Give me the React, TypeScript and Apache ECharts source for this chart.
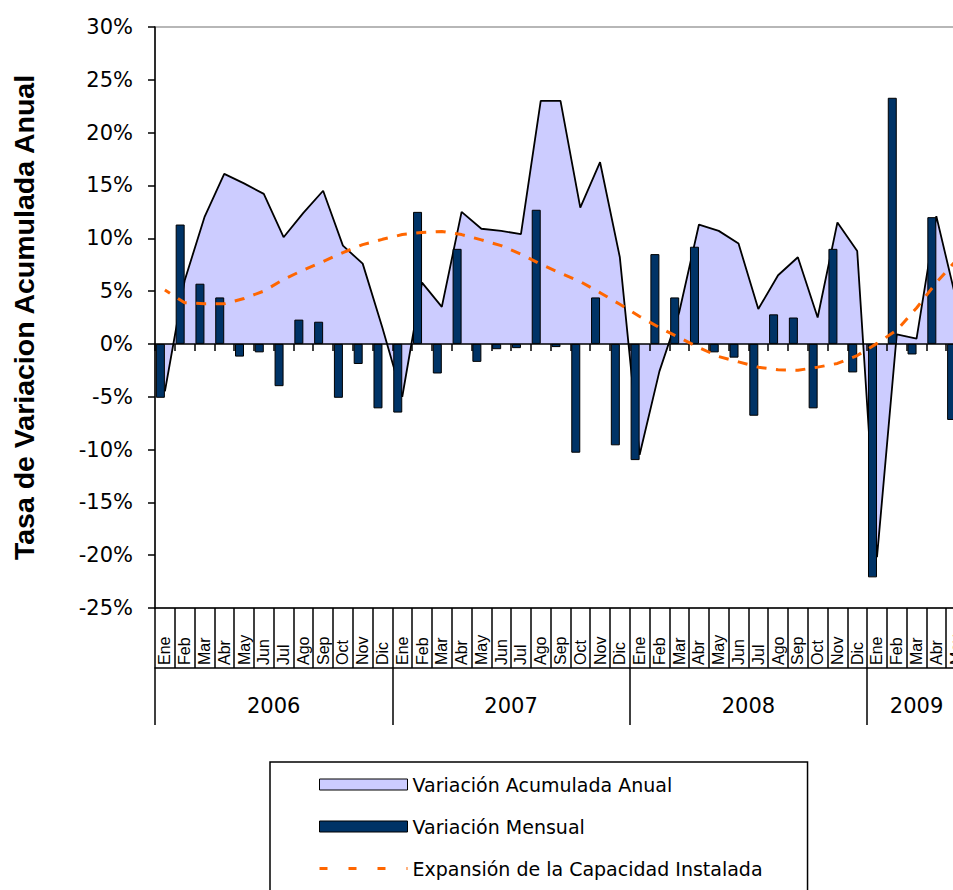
import React, { useEffect, useRef } from "react";
import * as echarts from "echarts";

const years = ["2006", "2007", "2008", "2009"];
const monthsPerYear = [12, 12, 12, 5];
const monthNames = ["Ene", "Feb", "Mar", "Abr", "May", "Jun", "Jul", "Ago", "Sep", "Oct", "Nov", "Dic"];

const categories: string[] = [];
years.forEach((y, i) => {
  monthNames.slice(0, monthsPerYear[i]).forEach((m) => categories.push(`${y}-${m}`));
});

const yearStarts: number[] = [];
const yearCenters: number[] = [];
{
  let acc = 0;
  monthsPerYear.forEach((n) => {
    yearStarts.push(acc);
    yearCenters.push(acc + n / 2);
    acc += n;
  });
}

// Variación Mensual (%)
const mensual = [
  -5.1, 11.3, 5.7, 4.4, -1.2, -0.8, -4.0, 2.3, 2.1, -5.1, -1.9, -6.1,
  -6.5, 12.5, -2.8, 9.0, -1.7, -0.5, -0.4, 12.7, -0.3, -10.3, 4.4, -9.6,
  -11.0, 8.5, 4.4, 9.2, -0.8, -1.3, -6.8, 2.8, 2.5, -6.1, 9.0, -2.7,
  -22.1, 23.3, -1.0, 12.0, -7.2,
];

// Variación Acumulada Anual (%)
const acumulada = [
  -4.5, 6.0, 12.0, 16.1, 15.2, 14.2, 10.1, 12.4, 14.5, 9.3, 7.6, 1.5,
  -5.0, 5.8, 3.5, 12.5, 10.9, 10.7, 10.4, 23.0, 23.0, 12.9, 17.2, 8.2,
  -10.5, -2.6, 3.0, 11.3, 10.7, 9.5, 3.3, 6.5, 8.2, 2.5, 11.5, 8.8,
  -20.2, 0.9, 0.5, 12.1, 4.2,
];

// Expansión de la Capacidad Instalada (%)
const capacidad = [
  5.1, 3.9, 3.8, 3.8, 4.3, 5.0, 6.1, 7.0, 7.8, 8.65, 9.4, 9.9,
  10.35, 10.55, 10.65, 10.35, 9.85, 9.3, 8.5, 7.55, 6.7, 5.9, 4.85, 3.75,
  2.6, 1.55, 0.6, -0.35, -1.2, -1.7, -2.2, -2.45, -2.5, -2.2, -1.85, -1.1,
  0.05, 1.3, 3.4, 5.8, 7.9,
];

const yMin = -25;
const yMax = 30;
const yStep = 5;

const NAME_AREA = "Variación Acumulada Anual";
const NAME_BAR = "Variación Mensual";
const NAME_LINE = "Expansión de la Capacidad Instalada";

export default function App() {
  const ref = useRef<HTMLDivElement>(null);

  useEffect(() => {
    if (!ref.current) return;
    const chart = echarts.init(ref.current, undefined, { renderer: "svg" });
    const black = { color: "#000", width: 1.5 };
    const option: any = {
      animation: false,
      backgroundColor: "#fff",
      textStyle: { fontFamily: "DejaVu Sans" },
      grid: {
        left: 155,
        top: 27,
        width: 811,
        height: 581,
        show: true,
        borderColor: "#A0A0A0",
        borderWidth: 1.5,
        backgroundColor: "transparent",
        containLabel: false,
        outerBoundsMode: "none",
      },
      legend: {
        orient: "vertical",
        left: 270,
        top: 762,
        itemWidth: 88,
        itemHeight: 11,
        itemGap: 23,
        padding: [13, 45, 40, 48],
        borderColor: "#000",
        borderWidth: 1.5,
        selectedMode: false,
        textStyle: { fontSize: 19, color: "#000", fontFamily: "DejaVu Sans" },
        data: [
          { name: NAME_AREA, icon: "rect", itemStyle: { color: "#CCCCFF", borderColor: "#000", borderWidth: 1 } },
          { name: NAME_BAR, icon: "rect", itemStyle: { color: "#003366", borderColor: "#000", borderWidth: 1 } },
          {
            name: NAME_LINE,
            itemStyle: { color: "transparent", borderColor: "transparent", borderWidth: 0, opacity: 0 },
            lineStyle: { color: "#FF6600", width: 3, type: [8, 21], dashOffset: 0, opacity: 1 },
          },
        ],
      },
      xAxis: [
        {
          type: "category",
          data: categories,
          position: "bottom",
          axisLine: { show: true, onZero: false, lineStyle: black },
          axisTick: { show: true, interval: 0, length: 60, lineStyle: black },
          axisLabel: { show: false },
          splitLine: { show: false },
        },
        {
          type: "category",
          data: categories,
          position: "bottom",
          z: 1.5,
          axisLine: { show: true, onZero: true, lineStyle: black },
          axisTick: { show: true, interval: 0, length: 7, lineStyle: black },
          axisLabel: { show: false },
          splitLine: { show: false },
        },
        {
          type: "category",
          data: categories,
          position: "bottom",
          offset: 60,
          axisLine: { show: true, onZero: false, lineStyle: black },
          axisTick: {
            show: true,
            interval: (i: number) => yearStarts.includes(i),
            length: 57,
            lineStyle: black,
          },
          axisLabel: {
            show: true,
            interval: 0,
            inside: true,
            rotate: 90,
            margin: 3,
            fontSize: 16,
            fontFamily: "Liberation Sans",
            color: "#000",
            formatter: (v: string) => v.split("-")[1],
          },
          splitLine: { show: false },
        },
        {
          type: "value",
          min: 0,
          max: categories.length,
          interval: 0.5,
          position: "bottom",
          offset: 60,
          axisLine: { show: false, onZero: false },
          axisTick: { show: false },
          splitLine: { show: false },
          axisLabel: {
            show: true,
            margin: 27,
            fontSize: 21,
            color: "#000",
            fontFamily: "DejaVu Sans",
            formatter: (v: number) => {
              const k = yearCenters.findIndex((c) => Math.abs(c - v) < 1e-6);
              return k >= 0 ? years[k] : "";
            },
          },
        },
      ],
      yAxis: {
        type: "value",
        min: yMin,
        max: yMax,
        interval: yStep,
        axisLine: { show: true, onZero: false, lineStyle: black },
        axisTick: { show: true, length: 7, lineStyle: black },
        splitLine: { show: false },
        axisLabel: { formatter: "{value}%", color: "#000", fontSize: 21, margin: 22, fontFamily: "DejaVu Sans" },
        name: "Tasa de Variacion Acumulada Anual",
        nameLocation: "middle",
        nameGap: 117,
        nameTextStyle: { fontFamily: "Liberation Sans", fontWeight: "bold", fontSize: 28.5, color: "#000" },
      },
      series: [
        {
          name: NAME_AREA,
          type: "line",
          xAxisIndex: 0,
          data: acumulada,
          symbol: "none",
          z: 1,
          lineStyle: { color: "#000", width: 1.8 },
          itemStyle: { color: "#CCCCFF" },
          areaStyle: { color: "#CCCCFF", opacity: 1 },
        },
        {
          name: NAME_BAR,
          type: "bar",
          xAxisIndex: 0,
          data: mensual,
          barWidth: 9,
          barGap: "0%",
          z: 3,
          itemStyle: { color: "#003366", borderColor: "#000", borderWidth: 1 },
        },
        {
          name: "_pad",
          type: "bar",
          xAxisIndex: 0,
          data: [],
          barWidth: 9,
          barGap: "0%",
        },
        {
          name: NAME_LINE,
          type: "line",
          xAxisIndex: 0,
          data: capacidad,
          symbol: "none",
          z: 4,
          lineStyle: { color: "#FF6600", width: 3, type: [10, 9.5], dashOffset: 4, cap: "butt" },
          itemStyle: { color: "#FF6600" },
        },
      ],
    };
    chart.setOption(option);
    return () => chart.dispose();
  }, []);

  return (
    <div
      style={{
        position: "fixed",
        left: 0,
        top: 0,
        width: 953,
        height: 890,
        overflow: "hidden",
        background: "#fff",
      }}
    >
      <div ref={ref} style={{ width: 980, height: 940 }} />
    </div>
  );
}
